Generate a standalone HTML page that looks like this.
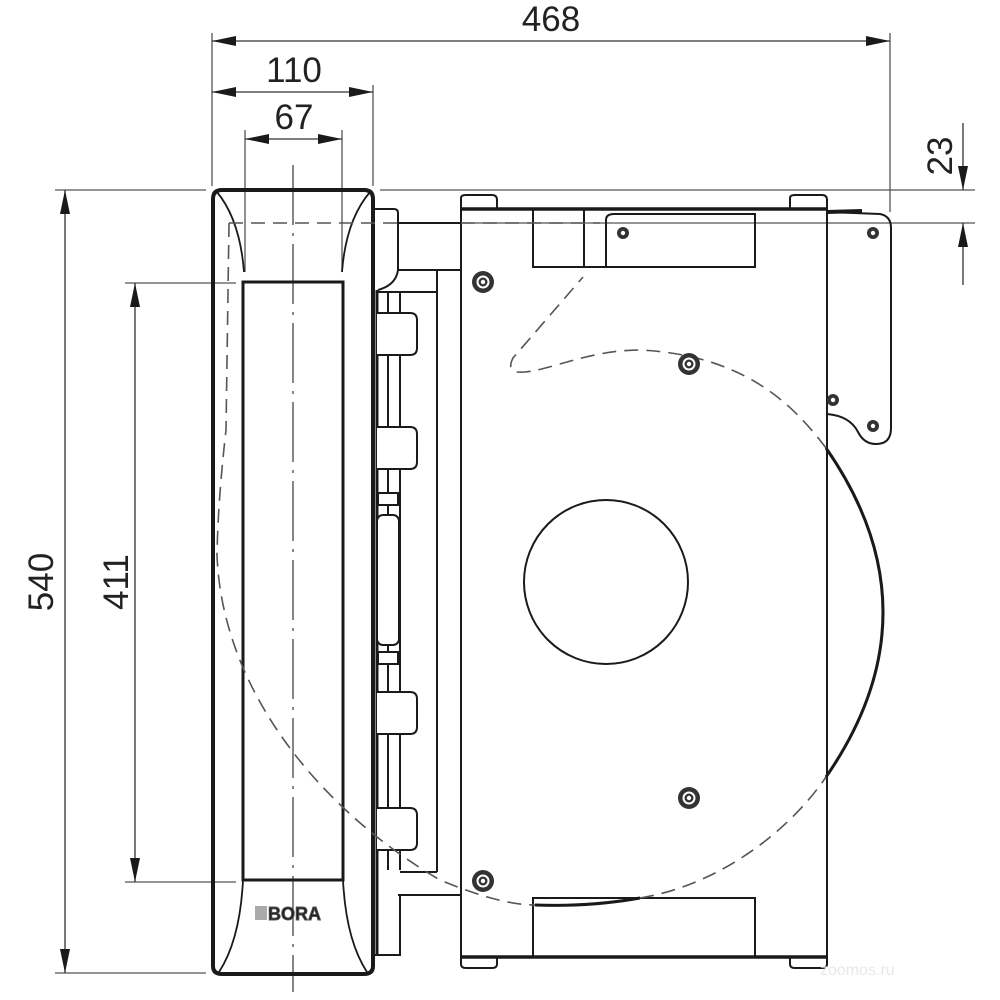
<!DOCTYPE html>
<html><head><meta charset="utf-8"><style>
html,body{margin:0;padding:0;background:#fff;}
svg{display:block;}
text{font-family:"Liberation Sans",sans-serif;fill:#222;}
</style></head><body>
<svg width="1000" height="1000" viewBox="0 0 1000 1000" xmlns="http://www.w3.org/2000/svg">
<defs>
<marker id="a" viewBox="0 0 24 10" refX="24" refY="5" markerWidth="24" markerHeight="10" markerUnits="userSpaceOnUse" orient="auto-start-reverse"><path d="M0,0 L24,5 L0,10 Z" fill="#1a1a1a"/></marker>
<g id="scr"><circle r="11" fill="#333"/><circle r="7" fill="#fff" stroke="#333" stroke-width="1"/><circle r="4.5" fill="#333"/><circle r="2.2" fill="#fff"/></g>
<g id="ss"><circle r="6" fill="#333"/><circle r="2.2" fill="#fff"/></g>
</defs>

<g stroke="#555" stroke-width="1.3" fill="none">
<line x1="212" y1="33" x2="212" y2="186"/>
<line x1="890" y1="33" x2="890" y2="212"/>
<line x1="373" y1="85" x2="373" y2="186"/>
<line x1="245" y1="130" x2="245" y2="272"/>
<line x1="342" y1="130" x2="342" y2="272"/>
<line x1="380" y1="190" x2="975" y2="190"/>
<line x1="398" y1="223" x2="975" y2="223"/>
<line x1="55" y1="190" x2="206" y2="190"/>
<line x1="55" y1="973" x2="206" y2="973"/>
<line x1="125" y1="283" x2="236" y2="283"/>
<line x1="125" y1="882" x2="236" y2="882"/>
</g>
<g stroke="#333" stroke-width="1.3" fill="none">
<line x1="212" y1="41" x2="890" y2="41" marker-start="url(#a)" marker-end="url(#a)"/>
<line x1="212" y1="92" x2="373" y2="92" marker-start="url(#a)" marker-end="url(#a)"/>
<line x1="245" y1="139" x2="342" y2="139" marker-start="url(#a)" marker-end="url(#a)"/>
<line x1="65" y1="190" x2="65" y2="973" marker-start="url(#a)" marker-end="url(#a)"/>
<line x1="135" y1="283" x2="135" y2="882" marker-start="url(#a)" marker-end="url(#a)"/>
<line x1="963" y1="123" x2="963" y2="190" marker-end="url(#a)"/>
<line x1="963" y1="285" x2="963" y2="223" marker-end="url(#a)"/>
</g>
<g font-size="35">
<text x="551" y="31" text-anchor="middle">468</text>
<text x="294" y="82" text-anchor="middle">110</text>
<text x="294" y="129" text-anchor="middle">67</text>
<text transform="translate(53,582) rotate(-90)" text-anchor="middle">540</text>
<text transform="translate(128,582) rotate(-90)" text-anchor="middle">411</text>
<text transform="translate(952,156) rotate(-90)" text-anchor="middle">23</text>
</g>

<line x1="293" y1="165" x2="293" y2="992" stroke="#444" stroke-width="1.3" stroke-dasharray="60,8,3,8"/>

<g fill="none" stroke="#1a1a1a">
<path d="M222,190 L364,190 Q373,190 373,199 L373,966 Q373,974 364,974 L222,974 Q213,974 213,966 L213,199 Q213,190 222,190 Z" stroke-width="4"/>
<path d="M243,880 L243,282 L343,282 L343,880 Z" stroke-width="3"/>
<path d="M217,192 Q240,220 244,272" stroke-width="1.8"/>
<path d="M370,192 Q346,220 342,272" stroke-width="1.8"/>
<path d="M243,880 Q240,940 219,972" stroke-width="1.8"/>
<path d="M343,880 Q346,940 367,972" stroke-width="1.8"/>
</g>
<g>
<g stroke="#555" stroke-width="1"><line x1="256" y1="906" x2="256" y2="920"/><line x1="258" y1="906" x2="258" y2="920"/><line x1="260" y1="906" x2="260" y2="920"/><line x1="262" y1="906" x2="262" y2="920"/><line x1="264" y1="906" x2="264" y2="920"/><line x1="266" y1="906" x2="266" y2="920"/></g>
<text x="268" y="920" font-size="18" font-weight="bold" fill="#fff" stroke="#555" stroke-width="0.9">BORA</text>
</g>

<g fill="none" stroke="#1a1a1a" stroke-width="2">
<path d="M373,209 L394,209 Q398,209 398,213 L398,270 Q396,285 378,290"/>
<line x1="398" y1="223" x2="461" y2="223"/>
<line x1="398" y1="270" x2="461" y2="270"/>
<line x1="378" y1="292" x2="437" y2="292"/>
<line x1="437" y1="270" x2="437" y2="872"/>
<line x1="377" y1="290" x2="377" y2="955" stroke-width="3"/>
<line x1="388" y1="292" x2="388" y2="870"/>
<line x1="400" y1="292" x2="400" y2="870"/>
<path d="M377,313 L410,313 Q417,313 417,320 L417,348 Q417,355 410,355 L377,355" fill="#fff"/>
<path d="M377,427 L410,427 Q417,427 417,434 L417,462 Q417,469 410,469 L377,469" fill="#fff"/>
<path d="M377,692 L410,692 Q417,692 417,699 L417,727 Q417,734 410,734 L377,734" fill="#fff"/>
<path d="M377,808 L410,808 Q417,808 417,815 L417,843 Q417,850 410,850 L377,850" fill="#fff"/>
<rect x="378" y="493" width="20" height="12" fill="#fff"/>
<rect x="378" y="652" width="20" height="12" fill="#fff"/>
<rect x="377" y="515" width="22" height="130" rx="6" fill="#fff"/>
<line x1="400" y1="872" x2="437" y2="872"/>
<line x1="398" y1="895" x2="461" y2="895"/>
<path d="M373,955 L400,955 L400,895"/>
</g>

<g fill="none" stroke="#1a1a1a" stroke-width="2">
<path d="M461,209 L461,198 Q461,195 466,195 L492,195 Q497,195 497,200 L497,209" fill="#fff"/>
<path d="M790,209 L790,198 Q790,195 795,195 L822,195 Q827,195 827,200 L827,209" fill="#fff"/>
<path d="M461,957 L461,964 Q461,968 466,968 L492,968 Q497,968 497,964 L497,957" fill="#fff"/>
<path d="M790,957 L790,964 Q790,968 795,968 L822,968 Q827,968 827,964 L827,957" fill="#fff"/>
<rect x="461" y="209" width="366" height="748"/>
<line x1="461" y1="209" x2="827" y2="209" stroke-width="3.5"/>
<line x1="461" y1="957" x2="827" y2="957" stroke-width="3.5"/>
<rect x="533" y="209" width="51" height="58"/>
<line x1="584" y1="267" x2="606" y2="267"/>
<path d="M606,267 L606,220 Q606,214 614,214 L755,214 L755,267 Z"/>
<rect x="533" y="898" width="222" height="59"/>
<path d="M827,212 L880,214 Q891,216 891,228 L891,428 Q891,444 876,444 Q864,444 858,432 Q850,416 827,414"/>
<circle cx="606" cy="582" r="82"/>
<path d="M826,448 Q940,612 826,777" stroke-width="3"/>
<path d="M535,905 Q590,907 640,898" stroke-width="3"/>
</g>
<line x1="827" y1="212" x2="862" y2="211" stroke="#1a1a1a" stroke-width="4"/>

<g fill="none" stroke="#555" stroke-width="1.6" stroke-dasharray="14,8">
<line x1="229" y1="223" x2="398" y2="223"/>
<line x1="461" y1="223" x2="600" y2="223"/>
<path d="M229,223 L226,430 Q218,500 217,555 C222,690 320,810 440,880 Q500,905 535,905"/>
<path d="M640,898 C720,885 790,830 826,777"/>
<path d="M826,448 C790,400 740,355 640,350 C590,350 550,370 525,372 Q505,374 513,358 L583,277"/>
</g>

<use href="#scr" x="483" y="282"/>
<use href="#scr" x="689" y="364"/>
<use href="#scr" x="689" y="798"/>
<use href="#scr" x="483" y="881"/>
<use href="#ss" x="623" y="233"/>
<use href="#ss" x="873" y="233"/>
<use href="#ss" x="873" y="426"/>
<use href="#ss" x="833" y="400"/>

<text x="820" y="975" font-size="16" style="fill:#e8e8e8">zoomos.ru</text>
</svg>
</body></html>
